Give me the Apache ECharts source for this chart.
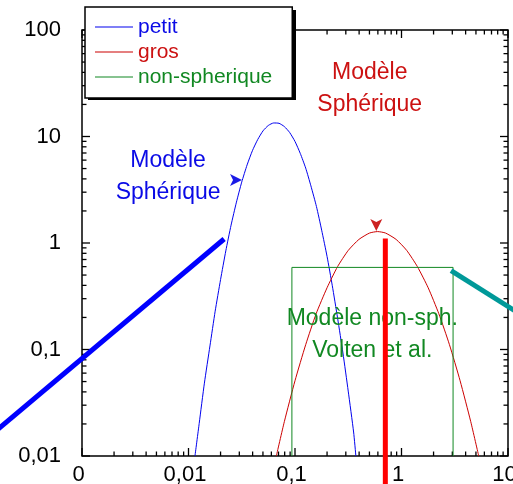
<!DOCTYPE html>
<html>
<head>
<meta charset="utf-8">
<script src="https://cdn.jsdelivr.net/npm/echarts@6/dist/echarts.min.js"></script>
<style>
  html, body { margin: 0; padding: 0; background: #fff; }
  #chart { width: 513px; height: 484px; }
</style>
</head>
<body>
<div id="chart"></div>
<script>
// Axis tick labels (log decades)
const xTickLabels = ['0', '0,01', '0,1', '1', '10'];
const yTickLabels = ['0,01', '0,1', '1', '10', '100'];

// Size distribution, small particles ("petit")
const petitX = [0.0115, 0.0126, 0.0141, 0.0159, 0.0178, 0.0200, 0.0224, 0.0251, 0.0282, 0.0316,
  0.0355, 0.0398, 0.0447, 0.0501, 0.0562, 0.0631, 0.0708, 0.0794, 0.0891, 0.100,
  0.112, 0.126, 0.141, 0.159, 0.178, 0.200, 0.224, 0.251, 0.282, 0.316, 0.355, 0.373];
const petitY = [0.01, 0.0202, 0.0483, 0.108, 0.229, 0.453, 0.843, 1.47, 2.42, 3.73,
  5.41, 7.35, 9.38, 11.3, 12.7, 13.4, 13.3, 12.4, 10.9, 8.98,
  6.95, 5.05, 3.44, 2.20, 1.32, 0.748, 0.397, 0.198, 0.0927, 0.0407, 0.0168, 0.01];

// Size distribution, large particles ("gros")
const grosX = [0.0668, 0.0794, 0.100, 0.126, 0.158, 0.200, 0.251, 0.316, 0.398, 0.501, 0.596,
  0.708, 0.891, 1.12, 1.41, 1.78, 2.24, 2.82, 3.55, 4.47, 5.31];
const grosY = [0.01, 0.0210, 0.0509, 0.111, 0.217, 0.380, 0.600, 0.851, 1.08, 1.24, 1.28,
  1.24, 1.08, 0.851, 0.600, 0.380, 0.217, 0.111, 0.0509, 0.0210, 0.01];

// Non-spherical model: flat distribution between two radii
const nonSphX = [0.0935, 0.0935, 3.05, 3.05];
const nonSphY = [0.01, 0.59, 0.59, 0.01];

// Power-law segments and the vertical marker (they run past the frame)
const blueSlopeX = [0.00015, 0.0216];
const blueSlopeY = [0.0167, 1.09];
const tealSlopeX = [2.92, 13.0];
const tealSlopeY = [0.55, 0.215];
const redBarX = [0.705, 0.705];
const redBarY = [0.005, 1.1];

// Arrow tips pointing at the two spherical-model curves
const blueArrow = [0.0318, 3.91];
const redArrow = [0.58, 1.296];
const notes = [
  { text: 'Modèle\nSphérique', at: [0.00643, 4.2], color: '#0a0ae6' },
  { text: 'Modèle\nSphérique', at: [0.503, 28.2], color: '#cc1111' },
  { text: 'Modèle non-sph.\nVolten et al.', at: [0.532, 0.138], color: '#118822' }
];

const FONT = "'Liberation Sans', Arial, sans-serif";
const zip = (xs, ys) => xs.map((x, i) => [x, ys[i]]);

// Inward ticks on all four sides: decades and 2..9 within each decade
const X_MIN = 0.001, X_MAX = 10, Y_MIN = 0.01, Y_MAX = 100;
function tickList(min, max) {
  const out = [];
  for (let e = Math.round(Math.log10(min)); e <= Math.round(Math.log10(max)); e++) {
    const base = Math.pow(10, e);
    out.push([base, 1]);
    if (base < max) for (let k = 2; k <= 9; k++) out.push([base * k, 0]);
  }
  return out;
}
const tickData = [];
tickList(X_MIN, X_MAX).forEach(t => { tickData.push([t[0], 'b', t[1]]); tickData.push([t[0], 't', t[1]]); });
tickList(Y_MIN, Y_MAX).forEach(t => { tickData.push([t[0], 'l', t[1]]); tickData.push([t[0], 'r', t[1]]); });

function renderTick(params, api) {
  const v = api.value(0);
  const side = tickData[params.dataIndex][1];
  const major = tickData[params.dataIndex][2] === 1;
  const len = major ? 8 : 4.5;
  let p, dx = 0, dy = 0;
  if (side === 'b') { p = api.coord([v, Y_MIN]); dy = -len; }
  else if (side === 't') { p = api.coord([v, Y_MAX]); dy = len; }
  else if (side === 'l') { p = api.coord([X_MIN, v]); dx = len; }
  else { p = api.coord([X_MAX, v]); dx = -len; }
  return {
    type: 'line',
    shape: { x1: p[0], y1: p[1], x2: p[0] + dx, y2: p[1] + dy },
    style: { stroke: '#000', lineWidth: 1.3 }
  };
}

// Thick straight segments, each [x1, y1, x2, y2, colour index]
const segColors = ['#0000ff', '#009999', '#ff0000'];
const segments = [
  [blueSlopeX[0], blueSlopeY[0], blueSlopeX[1], blueSlopeY[1], 0],
  [tealSlopeX[0], tealSlopeY[0], tealSlopeX[1], tealSlopeY[1], 1],
  [redBarX[0], redBarY[0], redBarX[1], redBarY[1], 2]
];
function renderSegment(params, api) {
  const p1 = api.coord([api.value(0), api.value(1)]);
  const p2 = api.coord([api.value(2), api.value(3)]);
  return {
    type: 'line',
    shape: { x1: p1[0], y1: p1[1], x2: p2[0], y2: p2[1] },
    style: { stroke: segColors[api.value(4)], lineWidth: 5, lineCap: 'butt' }
  };
}

const chart = echarts.init(document.getElementById('chart'), null, { renderer: 'canvas' });
chart.setOption({
  animation: false,
  backgroundColor: '#fff',
  grid: {
    left: 82, right: 5, top: 30, bottom: 28, outerBoundsMode: 'none', containLabel: false,
    show: true, borderColor: '#000', borderWidth: 1.5, backgroundColor: 'transparent'
  },
  xAxis: {
    type: 'log', logBase: 10, min: X_MIN, max: X_MAX,
    axisLine: { show: false }, axisTick: { show: false }, splitLine: { show: false }, minorTick: { show: false },
    axisLabel: {
      margin: 8, fontSize: 22, fontFamily: FONT, color: '#000', padding: [0, 7, 0, 0],
      showMinLabel: true, showMaxLabel: true, hideOverlap: false,
      formatter: v => xTickLabels[Math.round(Math.log10(v)) + 3]
    }
  },
  yAxis: {
    type: 'log', logBase: 10, min: Y_MIN, max: Y_MAX,
    axisLine: { show: false }, axisTick: { show: false }, splitLine: { show: false }, minorTick: { show: false },
    axisLabel: {
      margin: 21, fontSize: 22, fontFamily: FONT, color: '#000',
      showMinLabel: true, showMaxLabel: true,
      formatter: v => yTickLabels[Math.round(Math.log10(v)) + 2]
    }
  },
  // solid drop shadow under the legend box
  graphic: [{
    type: 'rect', z: 3, silent: true,
    shape: { x: 88, y: 10, width: 208, height: 90 },
    style: { fill: '#000' }
  }],
  legend: {
    left: 85, top: 7, orient: 'vertical', selectedMode: false, z: 4,
    padding: [8, 20, 9, 10], itemGap: 1, itemWidth: 38, itemHeight: 1, icon: 'rect',
    backgroundColor: '#fff', borderColor: '#000', borderWidth: 1.5, borderRadius: 0,
    textStyle: { fontSize: 21, fontFamily: FONT, lineHeight: 24 },
    data: [
      { name: 'petit', textStyle: { color: '#0a0ae6' } },
      { name: 'gros', textStyle: { color: '#cc1111' } },
      { name: 'non-spherique', textStyle: { color: '#118822' } }
    ]
  },
  series: [
    {
      name: 'petit', type: 'line', data: zip(petitX, petitY), symbol: 'none', smooth: 0.2,
      lineStyle: { color: '#0000ee', width: 1 }, itemStyle: { color: '#0000ee' }, silent: true, z: 3
    },
    {
      name: 'gros', type: 'line', data: zip(grosX, grosY), symbol: 'none', smooth: 0.2,
      lineStyle: { color: '#cc0000', width: 1 }, itemStyle: { color: '#cc0000' }, silent: true, z: 3
    },
    {
      name: 'non-spherique', type: 'line', data: zip(nonSphX, nonSphY), symbol: 'none',
      lineStyle: { color: '#118822', width: 1 }, itemStyle: { color: '#118822' }, silent: true, z: 3
    },
    {
      type: 'custom', silent: true, z: 5, clip: false,
      data: segments, renderItem: renderSegment
    },
    {
      type: 'scatter', silent: true, z: 4,
      data: [
        { value: blueArrow, symbolRotate: -90, itemStyle: { color: '#1a1ae6' } },
        { value: redArrow, symbolRotate: 180, itemStyle: { color: '#cc2222' } }
      ],
      symbol: 'arrow', symbolSize: [9, 12], itemStyle: { opacity: 1 }
    },
    {
      type: 'scatter', silent: true, z: 4, clip: false,
      data: notes.map(n => ({
        value: n.at, name: n.text,
        label: { color: n.color }
      })),
      symbolSize: 1, itemStyle: { color: 'rgba(0,0,0,0)', opacity: 1 },
      label: {
        show: true, position: 'inside', formatter: p => p.name, opacity: 1,
        fontSize: 23, lineHeight: 32, fontFamily: FONT, align: 'center'
      }
    },
    {
      type: 'custom', silent: true, z: 2, clip: false,
      data: tickData.map(t => [t[0], t[0]]),
      renderItem: renderTick
    }
  ]
});
</script>
</body>
</html>
